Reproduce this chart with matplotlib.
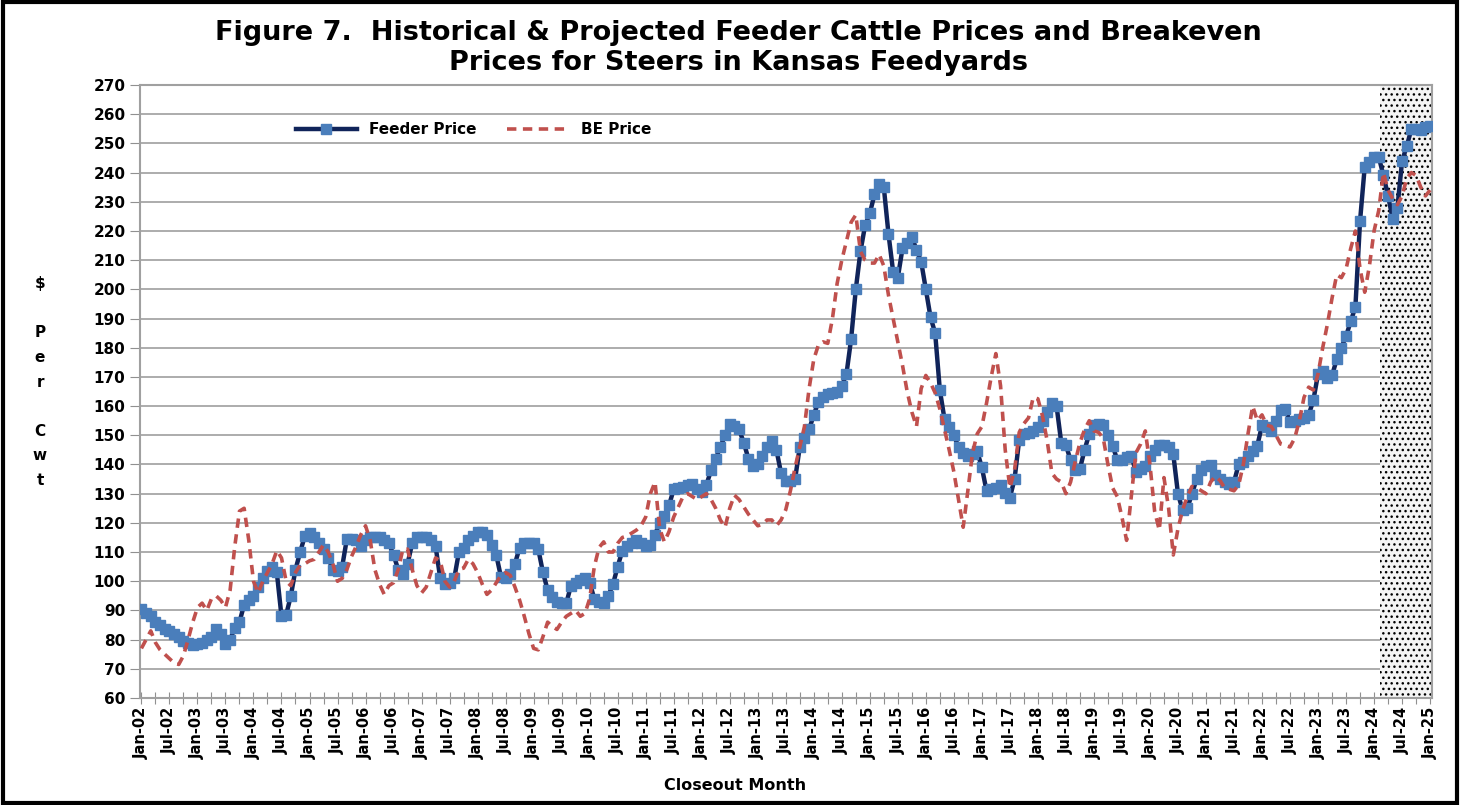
import matplotlib
matplotlib.use('Agg')
import matplotlib.pyplot as plt
import pandas as pd
from matplotlib.patches import Rectangle

# closeout months, Jan-02 .. Jan-25
months = pd.date_range('2002-01-01', '2025-01-01', freq='MS').strftime('%b-%y').tolist()

# feeder cattle price ($/cwt), one row per year
feeder_price = [
    90.5, 89, 88, 86, 85, 83.5, 83, 82, 81, 79.5, 79, 78,
    78.5, 79, 80, 81, 83.5, 82, 78.5, 80, 84, 86, 92, 93.5,
    95, 98, 101, 103.5, 105, 103, 88, 88.5, 95, 104, 110, 115.5,
    116.5, 115, 113, 111, 108, 104, 103.5, 105, 114.5, 114.5, 114, 112,
    114, 115, 115, 115, 114, 113, 109, 104, 102.5, 106, 113, 115,
    115, 115, 114, 112, 101, 99, 99.5, 101, 110, 111.5, 114, 115.5,
    117, 117, 116, 112.5, 109, 101.5, 101, 102.5, 106, 111.5, 113, 113,
    113, 111, 103, 97, 94.5, 93, 92.5, 92.5, 98.5, 99.5, 100.5, 101,
    99.5, 94, 93, 92.5, 95, 99, 105, 110.5, 112, 113, 114, 113,
    112, 112.5, 116, 120, 122.5, 126, 131.5, 132, 132.3, 133, 133.4, 131.5,
    130.6, 133, 138, 142, 146, 150, 154, 153.3, 152, 147.5, 142, 139.5,
    140, 143, 146, 148, 145, 137, 134.3, 134.3, 135, 146, 149, 152,
    157, 161.5, 163, 164, 164.5, 165, 166.8, 171, 183, 200, 213, 222,
    226, 232.5, 236, 235, 219, 206, 204, 214, 216, 218, 213.5, 209.5,
    200, 190.5, 185, 165.5, 155.5, 153, 150, 146, 144, 143, 143.5, 144.5,
    139, 131, 131.5, 132, 133, 130.3, 128.6, 135, 148.5, 150.3, 150.8, 151.4,
    153, 155, 158, 161, 160, 147.5, 146.6, 141.5, 138, 138.5, 145, 150.5,
    153.4, 154, 153.5, 150, 146.5, 141.5, 141.4, 142.5, 143, 137.5, 138.5, 139.5,
    143, 145, 146.6, 146.6, 146, 143.5, 130, 124.3, 125, 130, 135, 138,
    139.5, 139.7, 136.3, 135, 134, 133.4, 134, 140, 141, 143, 144.5, 146.5,
    153.4, 153, 151.5, 155, 158.5, 159, 154.5, 155, 155.5, 156, 157, 162,
    171, 172, 169.5, 170.5, 176, 180, 184, 189, 194, 223.5, 242, 243.7,
    245.4, 245.4, 239, 232, 224, 228, 244, 249, 255, 255, 254.5, 255.5,
    256,
]

# breakeven price ($/cwt)
be_price = [
    77, 80, 83, 79, 76.5, 75, 73.5, 72, 71.5, 74.5, 80, 86,
    91, 92.5, 90, 94, 95, 93.5, 91, 97, 112, 124, 125, 114,
    100, 96, 100, 103, 106, 110.5, 108, 100, 98.5, 103, 105.5, 106,
    107, 107.5, 110, 112.5, 110, 106, 100, 101, 104, 108.5, 112, 116,
    119, 114, 104, 99, 95.5, 98.5, 99.5, 104, 111, 111, 104, 98.5,
    96, 98, 103, 108, 107, 100, 98, 100, 104, 104.5, 107.5, 106,
    103, 99, 95.5, 97, 99.5, 102, 103, 102, 98, 93.5, 88, 82,
    77, 76.5, 81, 86, 84.5, 83.5, 86, 88, 89, 90, 88, 89,
    94, 105, 111.5, 113.5, 110, 110, 113, 115, 115.5, 116.5, 117.5, 119,
    122, 130, 134, 118, 113.5, 117, 122, 125.5, 129, 130, 129, 128,
    129, 130, 128, 125, 121, 118.5, 125, 129.5, 128, 125.5, 123, 121,
    119, 119.5, 121, 121, 119, 121, 124.5, 131, 139, 146, 153, 166,
    176, 181, 182, 181.5, 190, 202, 210, 216.5, 223, 225.5, 213, 210,
    209, 209, 212, 208, 198, 190, 182, 174, 165, 158, 153, 166,
    170.5, 168, 164.5, 159, 152, 145, 137.5, 128, 118.5, 131, 144, 150.5,
    153, 161, 170, 178, 167, 145, 132, 138, 151, 154, 156, 163,
    162.5, 156.5, 148, 137, 135, 134, 130, 134, 141, 147.5, 152, 155,
    151.5, 151, 149, 140, 132, 129, 122, 114, 129, 144, 147, 151.5,
    140, 124, 117.5, 135.5, 125, 109, 118, 124.5, 129, 132.5, 132, 131,
    130, 134, 136, 134.5, 132, 131.5, 131, 133, 140, 150.5, 160, 155,
    157, 153.5, 153, 150, 147, 146.5, 146, 149, 155, 163, 166.5, 165.5,
    171, 180, 188, 197, 205, 204, 207, 214, 220, 207, 199, 208,
    220, 227, 240, 234, 231, 229, 232, 238, 240, 239, 235, 232,
    234,
]

y_ticks = list(range(60, 271, 10))
projection_start = 'Feb-24'

x = list(range(len(months)))

plt.rcParams['font.family'] = 'DejaVu Sans'
plt.rcParams['hatch.color'] = 'black'
plt.rcParams['hatch.linewidth'] = 1.0

fig = plt.figure(figsize=(14.6, 8.05), dpi=100)
ax = fig.add_axes([0.0959, 0.1329, 0.8849, 0.7615])

# projected months, dotted shading
p0 = months.index(projection_start) + 0.3
ax.axvspan(p0, len(months) - 0.6, facecolor='#f4f4f4', hatch='...',
           edgecolor='black', linewidth=0, zorder=1)

ax.plot(x, feeder_price, color='#10245a', lw=3.2, marker='s', ms=6.8,
        mfc='#4a7ebb', mec='#4a7ebb', label='Feeder Price', zorder=3)
ax.plot(x, be_price, color='#c0504d', lw=2.6, ls=(0, (2.6, 1.8)),
        label='BE Price', zorder=4)

ax.set_xlim(-0.3, len(months) - 0.6)
ax.set_ylim(60, 270)
ax.set_yticks(y_ticks)
ax.yaxis.grid(True, color='#a6a6a6', lw=1.3)
ax.set_axisbelow(True)

tick_pos = list(range(0, len(months), 3))
ax.set_xticks(tick_pos)
ax.set_xticklabels([months[i] if i % 6 == 0 else '' for i in tick_pos],
                   rotation=90, fontsize=10.5, fontweight='bold')
for lbl in ax.get_yticklabels():
    lbl.set_fontweight('bold')
    lbl.set_fontsize(11)
ax.tick_params(axis='x', direction='inout', length=9, color='#909090', pad=2)
ax.tick_params(axis='y', direction='out', length=7, color='#909090')
for s in ax.spines.values():
    s.set_color('#a0a0a0')
    s.set_linewidth(1.5)

ax.legend(loc='center left', bbox_to_anchor=(0.11, 0.927), ncol=2,
          frameon=False, handlelength=4, columnspacing=2,
          prop={'weight': 'bold', 'size': 11})

fig.text(0.506, 1 - 48 / 805,
         'Figure 7.  Historical & Projected Feeder Cattle Prices and Breakeven\n'
         'Prices for Steers in Kansas Feedyards',
         ha='center', va='center', fontsize=19.5, fontweight='bold', linespacing=1.2)
fig.text(40 / 1460, 1 - 382 / 805, '\\$\n\nP\ne\nr\n\nC\nw\nt',
         ha='center', va='center', fontsize=11, fontweight='bold', linespacing=1.8)
fig.text(735 / 1460, 1 - 785 / 805, 'Closeout Month',
         ha='center', va='center', fontsize=11.5, fontweight='bold')

fig.patches.append(Rectangle((0.002, 0.002), 0.996, 0.996, transform=fig.transFigure,
                             fill=False, edgecolor='black', lw=3))

fig.savefig('out.png', dpi=100)
